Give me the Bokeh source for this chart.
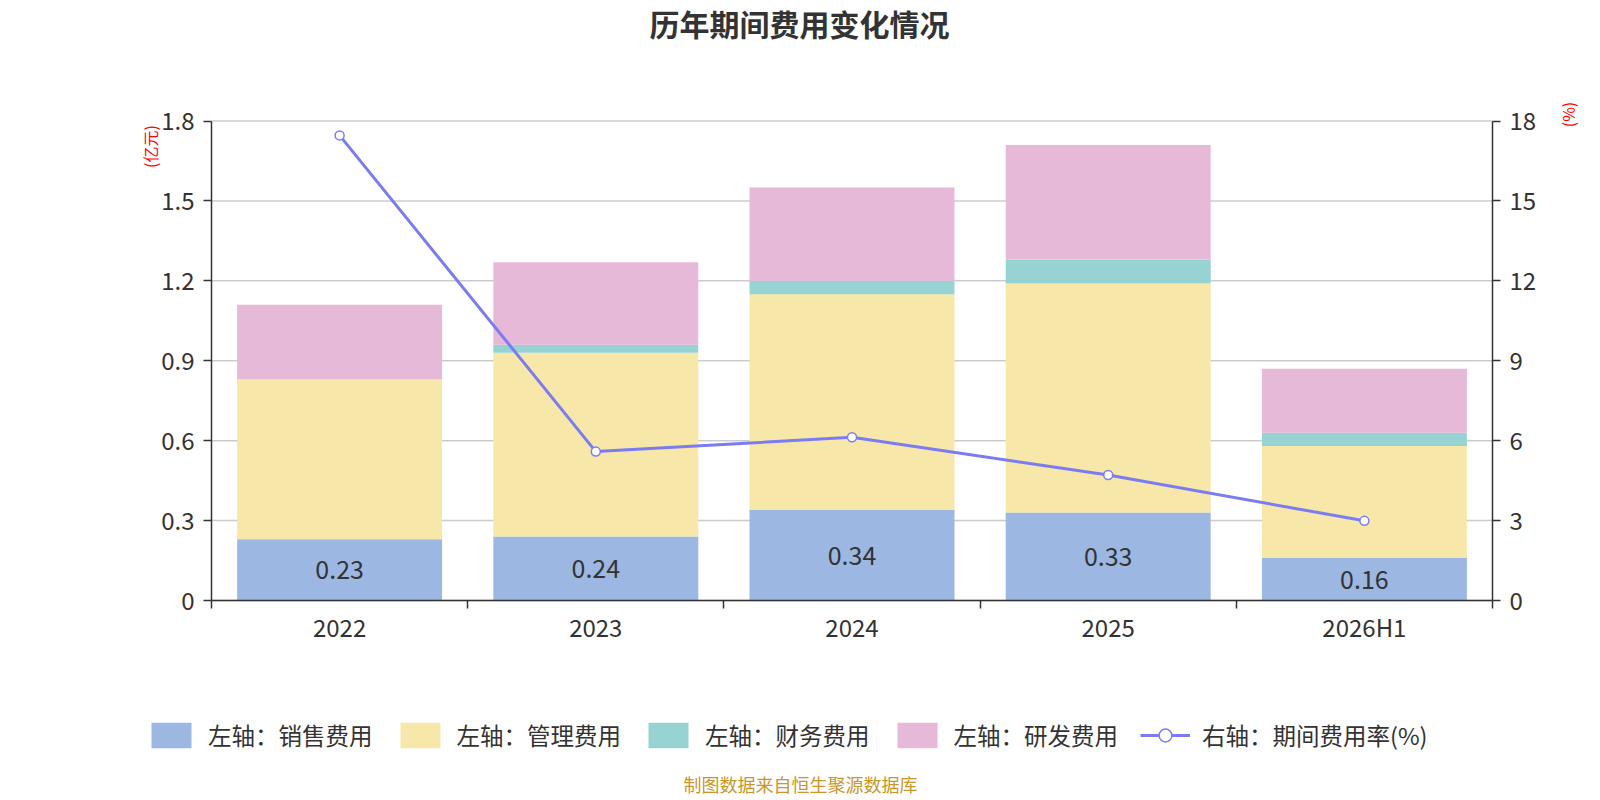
from math import pi

from bokeh.core.properties import value
from bokeh.embed import file_html
from bokeh.models import (ColumnDataSource, FixedTicker, Label, Legend,
                          LegendItem, LinearAxis, Range1d)
from bokeh.plotting import figure
from bokeh.resources import INLINE

# 数据（亿元 / %）
years = ['2022', '2023', '2024', '2025', '2026H1']
sales = [0.23, 0.24, 0.34, 0.33, 0.16]      # 销售费用
admin = [0.60, 0.69, 0.81, 0.86, 0.42]      # 管理费用
finance = [0.00, 0.03, 0.05, 0.09, 0.05]    # 财务费用
rnd = [0.28, 0.31, 0.35, 0.43, 0.24]        # 研发费用
rate = [17.46, 5.59, 6.13, 4.71, 2.99]      # 期间费用率(%)

left_ticks = [0, 0.3, 0.6, 0.9, 1.2, 1.5, 1.8]
right_ticks = [0, 3, 6, 9, 12, 15, 18]

series = ['sales', 'admin', 'finance', 'rnd']
names = ['左轴：销售费用', '左轴：管理费用', '左轴：财务费用', '左轴：研发费用']
colors = ['#9cb8e2', '#f7e7a9', '#98d3d3', '#e6b9d9']
line_color = '#7b7cf3'
font = 'Noto Sans CJK SC'

# 画布与绘图区（像素）
W, H = 1598, 798
left_px, right_px, top_px, bottom_px = 211, 1492, 120.5, 600

n = len(years)
kx = (right_px - left_px) / n
ky = (bottom_px - top_px) / left_ticks[-1]
kr = (bottom_px - top_px) / right_ticks[-1]

xs = [i + 0.5 for i in range(n)]
source = ColumnDataSource(dict(x=xs, sales=sales, admin=admin, finance=finance,
                               rnd=rnd, rate=rate,
                               label_y=[s / 2 for s in sales],
                               label=['%.2f' % s for s in sales]))

p = figure(width=W, height=H, title=None,
           min_border_left=0, min_border_right=0,
           min_border_top=0, min_border_bottom=0,
           x_range=Range1d(-left_px / kx, n + (W - right_px) / kx),
           y_range=Range1d(-(H - bottom_px) / ky, left_ticks[-1] + top_px / ky),
           output_backend="svg", toolbar_location=None)
p.outline_line_color = None
p.extra_y_ranges = {'pct': Range1d(-(H - bottom_px) / kr,
                                   right_ticks[-1] + top_px / kr)}
p.xgrid.visible = False
p.ygrid.visible = False

# 网格线
p.segment(x0=0, x1=n, y0=left_ticks, y1=left_ticks, line_color='#cccccc',
          line_width=1.5)

bars = p.vbar_stack(series, x='x', width=0.8, source=source,
                    color=colors, line_color=None)
line_r = p.line('x', 'rate', source=source, y_range_name='pct',
                line_color=line_color, line_width=3)
dot_r = p.scatter('x', 'rate', source=source, y_range_name='pct', size=9,
                  marker='circle', fill_color='white', line_color=line_color,
                  line_width=1.5)

p.text('x', 'label_y', text='label', source=source, text_align='center',
       text_baseline='middle', text_font=value(font), text_font_size='25px',
       text_color='#333333')

# 坐标轴
p.xaxis.fixed_location = 0
p.xaxis.bounds = (0, n)
p.xaxis.ticker = FixedTicker(ticks=xs, minor_ticks=list(range(n + 1)))
p.xaxis.major_label_overrides = {x: y for x, y in zip(xs, years)}
p.xaxis.major_tick_out = 0
p.xaxis.major_tick_in = 0
p.xaxis.minor_tick_out = 8
p.xaxis.minor_tick_in = 0
p.xaxis.major_label_standoff = 0

p.yaxis.fixed_location = 0
p.yaxis.bounds = (0, left_ticks[-1])
p.yaxis.ticker = FixedTicker(ticks=left_ticks)
p.yaxis.major_label_overrides = {t: '%g' % t for t in left_ticks}

right = LinearAxis(y_range_name='pct', fixed_location=n,
                   bounds=(0, right_ticks[-1]),
                   ticker=FixedTicker(ticks=right_ticks))
p.add_layout(right, 'right')

for ax in [p.xaxis[0], p.yaxis[0], right]:
    ax.axis_line_color = '#333333'
    ax.axis_line_width = 1.5
    ax.major_tick_line_color = '#333333'
    ax.minor_tick_line_color = '#333333'
    ax.major_tick_line_width = 1.5
    ax.minor_tick_line_width = 1.5
    ax.major_label_text_font = font
    ax.major_label_text_font_size = '24px'
    ax.major_label_text_color = '#333333'
for ax in [p.yaxis[0], right]:
    ax.major_tick_out = 8
    ax.major_tick_in = 0
    ax.minor_tick_line_color = None
    ax.major_label_standoff = 9


def text_label(text, x, y, size, color, bold=False, angle=0):
    # x, y：像素，从画布左上角量起
    p.add_layout(Label(x=x, y=H - y, x_units='screen', y_units='screen',
                       text=text, angle=angle, text_align='center',
                       text_baseline='middle', text_font=font,
                       text_font_size=size, text_color=color,
                       text_font_style='bold' if bold else 'normal'))


text_label('历年期间费用变化情况', 799, 22.5, '30px', '#333333', bold=True)
text_label('(亿元)', 149, 146, '16px', 'red', angle=pi / 2)
text_label('(%)', 1567, 114, '16px', 'red', angle=pi / 2)
text_label('制图数据来自恒生聚源数据库', 800, 783, '18px', '#c9972c')

# 图例
items = [LegendItem(label=nm, renderers=[r]) for nm, r in zip(names, bars)]
items.append(LegendItem(label='右轴：期间费用率(%)', renderers=[line_r, dot_r]))
legend = Legend(items=items, location=(146, H - 752), orientation='horizontal',
                glyph_width=50, glyph_height=32, label_standoff=12, spacing=22,
                padding=0, margin=0, border_line_alpha=0,
                background_fill_alpha=0, label_text_font=font,
                label_text_font_size='23.5px', label_text_color='#333333')
p.add_layout(legend)

open("out.html", "w").write(file_html(p, INLINE))
